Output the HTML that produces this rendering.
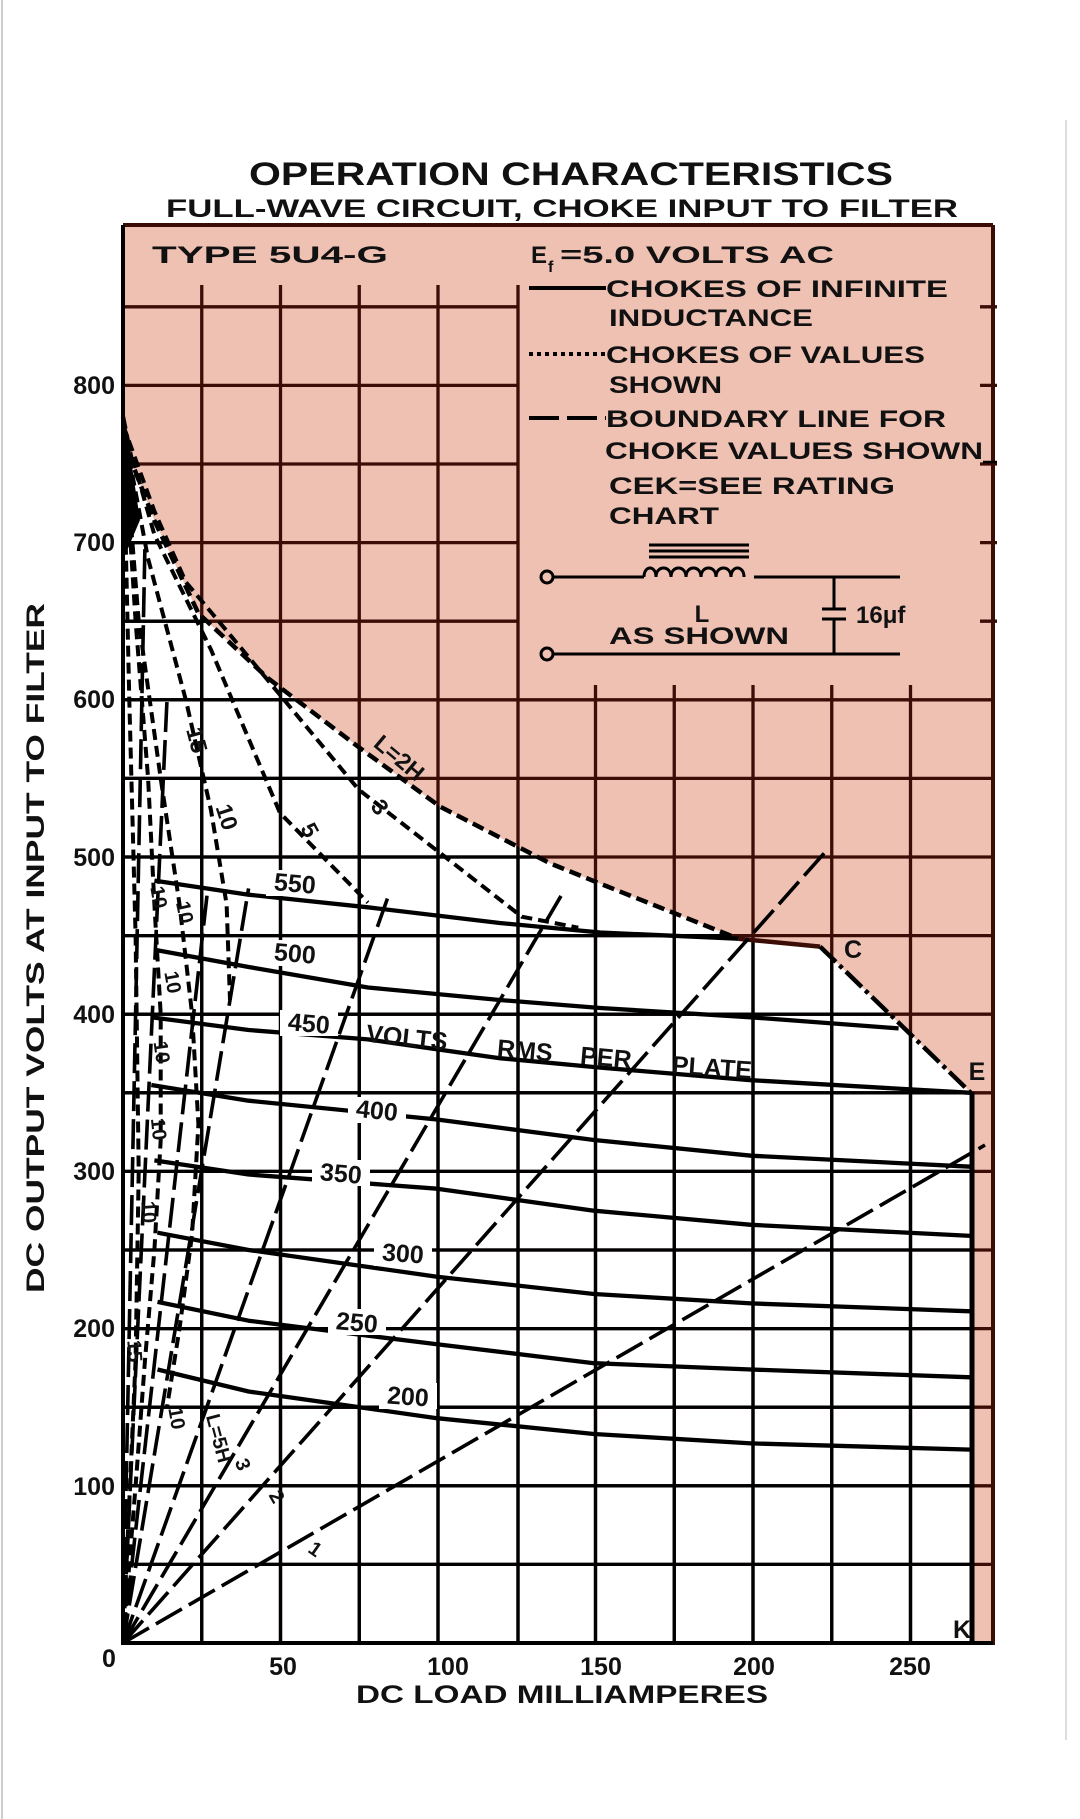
<!DOCTYPE html>
<html><head><meta charset="utf-8"><style>
html,body{margin:0;padding:0;background:#fff;}
svg{display:block;}
text{font-family:"Liberation Sans",sans-serif;fill:#111;font-weight:bold;}
</style></head><body>
<svg width="1080" height="1819" viewBox="0 0 1080 1819" xmlns="http://www.w3.org/2000/svg">
<defs>
<clipPath id="wc"><polygon points="123,417 132.4,464 154.4,520.6 198.4,613.3 267.4,677.8 358.5,747 440.1,806.7 550,863.3 600.3,883.7 738.4,938.7 820.1,946.6 970.8,1092.8 970.8,1643 123,1643"/></clipPath>
<g id="grid">
<g>
<line x1="123" y1="1564.4" x2="993" y2="1564.4"/><line x1="123" y1="1485.8" x2="993" y2="1485.8"/>
<line x1="123" y1="1407.2" x2="993" y2="1407.2"/><line x1="123" y1="1328.6" x2="993" y2="1328.6"/>
<line x1="123" y1="1250" x2="993" y2="1250"/><line x1="123" y1="1171.4" x2="993" y2="1171.4"/>
<line x1="123" y1="1092.8" x2="993" y2="1092.8"/><line x1="123" y1="1014.2" x2="993" y2="1014.2"/>
<line x1="123" y1="935.6" x2="993" y2="935.6"/><line x1="123" y1="857" x2="993" y2="857"/>
<line x1="123" y1="778.4" x2="993" y2="778.4"/><line x1="123" y1="699.8" x2="993" y2="699.8"/>
<line x1="123" y1="621.2" x2="518" y2="621.2"/><line x1="123" y1="542.6" x2="518" y2="542.6"/>
<line x1="123" y1="464" x2="518" y2="464"/><line x1="123" y1="385.4" x2="518" y2="385.4"/>
<line x1="123" y1="306.8" x2="518" y2="306.8"/>
<line x1="980" y1="621.2" x2="997" y2="621.2"/><line x1="980" y1="542.6" x2="997" y2="542.6"/>
<line x1="980" y1="464" x2="997" y2="464"/><line x1="980" y1="385.4" x2="997" y2="385.4"/>
<line x1="980" y1="306.8" x2="997" y2="306.8"/>
<line x1="201.75" y1="285" x2="201.75" y2="1643"/><line x1="280.5" y1="285" x2="280.5" y2="1643"/>
<line x1="359.25" y1="285" x2="359.25" y2="1643"/><line x1="438" y1="285" x2="438" y2="1643"/>
<line x1="518" y1="285" x2="518" y2="1643"/><line x1="595.5" y1="685" x2="595.5" y2="1643"/>
<line x1="674.25" y1="685" x2="674.25" y2="1643"/><line x1="753" y1="685" x2="753" y2="1643"/>
<line x1="831.75" y1="685" x2="831.75" y2="1643"/><line x1="910.5" y1="685" x2="910.5" y2="1643"/>
</g>
</g>
</defs>
<line x1="2" y1="0" x2="2" y2="1819" stroke="#ccc" stroke-width="2"/>
<line x1="1066" y1="120" x2="1066" y2="1740" stroke="#ddd" stroke-width="2"/>

<polygon fill="#efc1b3" points="123,225 123,417 132.4,464 154.4,520.6 198.4,613.3 267.4,677.8 358.5,747 440.1,806.7 550,863.3 600.3,883.7 738.4,938.7 820.1,946.6 970.8,1092.8 970.8,1643 993,1643 993,225"/>
<g stroke="#3a0d06" stroke-width="3.3" fill="none"><use href="#grid"/></g>
<g stroke="#000" stroke-width="3.3" fill="none" clip-path="url(#wc)"><use href="#grid"/></g>
<g stroke-width="4" fill="none">
<line x1="123" y1="225" x2="993" y2="225" stroke="#3a0d06"/>
<line x1="993" y1="225" x2="993" y2="1645" stroke="#3a0d06"/>
<line x1="123" y1="225" x2="123" y2="1645" stroke="#000"/>
<line x1="121" y1="1643" x2="993" y2="1643" stroke="#000"/>
</g>

<polyline fill="none" stroke="#000" stroke-width="4.5" stroke-dasharray="12,6" points="123,417 132.4,464 154.4,520.6 198.4,613.3 267.4,677.8 358.5,747 440.1,806.7 550,863.3 600.3,883.7 738.4,938.7"/>
<polyline fill="none" stroke="#3a0d06" stroke-width="4.5" points="738.4,938.7 820.1,946.6"/>
<polyline fill="none" stroke="#000" stroke-width="4.5" stroke-dasharray="22,5,4,5" points="820.1,946.6 970.8,1092.8"/>
<line x1="972" y1="1092" x2="972" y2="1643" stroke="#000" stroke-width="5"/>
<polygon points="123,417 128,440 140,520 123,560" fill="#000"/>

<g fill="none" stroke="#000" stroke-width="4.3" stroke-linejoin="round">
<polyline points="154.4,880.6 248.6,894.7 367.9,907.3 499.8,923 600.3,932.5 738.4,938.7"/>
<polyline points="154.4,949.8 248.6,967 367.9,987.5 499.8,1000 600.3,1008 751,1017.3 898.6,1028.4"/>
<polyline points="151.3,1017.3 248.6,1030 367.9,1039.4 499.8,1058.2 600.3,1067.6 751,1080.2 970.8,1092.8"/>
<polyline points="151.3,1085 248.6,1100.7 437,1119.5 594,1140 751,1155.7 970.8,1166.7"/>
<polyline points="154.4,1160.4 248.6,1174.5 437,1188.7 594,1210.7 751,1224.8 970.8,1235.9"/>
<polyline points="157.5,1232.7 248.6,1250 437,1276.7 594,1294 751,1303.4 970.8,1311.3"/>
<polyline points="157.5,1301.9 248.6,1320.7 437,1344.3 594,1363.2 751,1369.5 970.8,1377.3"/>
<polyline points="157.5,1369.5 248.6,1391.5 437,1418.2 594,1434 751,1443.4 970.8,1449.6"/>
</g>

<g fill="none" stroke="#000" stroke-width="3.6" stroke-dasharray="30,8">
<line x1="123" y1="1643" x2="985" y2="1145"/>
<line x1="123" y1="1643" x2="826.4" y2="850.7"/>
<line x1="123" y1="1643" x2="562.6" y2="893.2"/>
<line x1="123" y1="1643" x2="389.9" y2="891.6"/>
<line x1="123" y1="1643" x2="248.6" y2="888.4"/>
<line x1="123" y1="1643" x2="207.8" y2="888.4"/>
<line x1="123" y1="1643" x2="167" y2="700"/>
<line x1="123" y1="1643" x2="145" y2="543"/>
</g>
<g fill="none" stroke="#000" stroke-width="4" stroke-dasharray="11,6">
<polyline points="123,424.7 154.4,511.2 185.8,582 242.3,649.5 358.5,789.4 521.8,916.7 578.3,927.7"/>
<polyline points="123,424.7 154.4,534.7 210.9,649.5 280,813 367.9,902.6"/>
<polyline points="123,424.7 148,558.3 185.8,699.8 210.9,809.8 226.6,904.2 230,1000"/>
<polyline points="123,424.7 138.7,621.2 160.7,778.4 179.5,904.2 192.1,1014.2 198.4,1124.2 192.1,1234.3 179.5,1328.6 167,1407.2"/>
<polyline points="123,424.7 135.6,621.2 148.1,778.4 154.4,904.2 160.7,1014.2 160.7,1140 154.4,1250 145,1360 135.6,1485.8 123,1643"/>
<polyline points="123,424.7 129.3,699.8 135.6,935.6 138.7,1171.4 135.6,1360 123,1643"/>
</g>

<text x="249" y="185" font-size="32" textLength="644" lengthAdjust="spacingAndGlyphs">OPERATION  CHARACTERISTICS</text>
<text x="166" y="217" font-size="25" textLength="792" lengthAdjust="spacingAndGlyphs">FULL-WAVE  CIRCUIT, CHOKE  INPUT  TO  FILTER</text>

<g font-size="24">
<text x="152" y="263" textLength="236" lengthAdjust="spacingAndGlyphs">TYPE  5U4-G</text>
<text x="531" y="263">E</text><text x="548" y="272" font-size="16">f</text>
<text x="560" y="263" textLength="274" lengthAdjust="spacingAndGlyphs">=5.0 VOLTS AC</text>
<text x="606" y="297" textLength="342" lengthAdjust="spacingAndGlyphs">CHOKES OF INFINITE</text>
<text x="609" y="326" textLength="204" lengthAdjust="spacingAndGlyphs">INDUCTANCE</text>
<text x="606" y="363" textLength="319" lengthAdjust="spacingAndGlyphs">CHOKES OF VALUES</text>
<text x="609" y="393" textLength="113" lengthAdjust="spacingAndGlyphs">SHOWN</text>
<text x="606" y="427" textLength="340" lengthAdjust="spacingAndGlyphs">BOUNDARY LINE FOR</text>
<text x="605" y="459" textLength="378" lengthAdjust="spacingAndGlyphs">CHOKE VALUES SHOWN</text>
<text x="609" y="494" textLength="286" lengthAdjust="spacingAndGlyphs">CEK=SEE RATING</text>
<text x="609" y="524" textLength="110" lengthAdjust="spacingAndGlyphs">CHART</text>
</g>
<g stroke="#000" fill="none">
<line x1="529" y1="288" x2="606" y2="288" stroke-width="4"/>
<line x1="529" y1="354" x2="606" y2="354" stroke-width="4" stroke-dasharray="4,4"/>
<line x1="529" y1="418" x2="606" y2="418" stroke-width="4" stroke-dasharray="30,8"/>
<line x1="983" y1="462" x2="997" y2="462" stroke-width="2.5"/>
</g>
<g stroke="#000" fill="none" stroke-width="3">
<circle cx="547" cy="577" r="6"/><circle cx="547" cy="654" r="6"/>
<line x1="553" y1="577" x2="644" y2="577"/>
<line x1="649" y1="545" x2="749" y2="545"/><line x1="649" y1="551" x2="749" y2="551"/><line x1="649" y1="557" x2="749" y2="557"/>
<path d="M644,577 c0,-12 12,-12 12,0 c0,-12 15,-12 15,0 c0,-12 15,-12 15,0 c0,-12 15,-12 15,0 c0,-12 15,-12 15,0 c0,-12 15,-12 15,0 c0,-12 13,-12 13,0"/>
<line x1="754" y1="577" x2="900" y2="577"/>
<line x1="553" y1="654" x2="900" y2="654"/>
<line x1="834" y1="577" x2="834" y2="609"/><line x1="834" y1="619" x2="834" y2="654"/>
<line x1="822" y1="609" x2="846" y2="609"/><line x1="822" y1="619" x2="846" y2="619"/>
</g>
<g font-size="24">
<text x="702" y="622" text-anchor="middle">L</text>
<text x="609" y="644" textLength="180" lengthAdjust="spacingAndGlyphs">AS SHOWN</text>
<text x="856" y="623">16μf</text>
</g>

<g font-size="25">
<g fill="#fff" stroke="none">
<rect x="266" y="870" width="58" height="26"/><rect x="266" y="940" width="58" height="26"/>
<rect x="280" y="1010" width="58" height="26"/><rect x="348" y="1097" width="58" height="26"/>
<rect x="312" y="1160" width="58" height="26"/><rect x="374" y="1240" width="58" height="26"/>
<rect x="328" y="1309" width="58" height="26"/><rect x="379" y="1383" width="58" height="26"/>
</g>
<text x="295" y="892" text-anchor="middle" transform="rotate(5 295 883)">550</text>
<text x="295" y="962" text-anchor="middle" transform="rotate(5 295 953)">500</text>
<text x="309" y="1032" text-anchor="middle" transform="rotate(5 309 1023)">450</text>
<text x="377" y="1119" text-anchor="middle" transform="rotate(6 377 1110)">400</text>
<text x="341" y="1182" text-anchor="middle" transform="rotate(5 341 1173)">350</text>
<text x="403" y="1262" text-anchor="middle" transform="rotate(4 403 1253)">300</text>
<text x="357" y="1331" text-anchor="middle" transform="rotate(5 357 1322)">250</text>
<text x="408" y="1405" text-anchor="middle" transform="rotate(4 408 1396)">200</text>
<text x="407" y="1046" text-anchor="middle" transform="rotate(6 407 1037)">VOLTS</text>
<text x="525" y="1059" text-anchor="middle" transform="rotate(5 525 1050)">RMS</text>
<text x="606" y="1066" text-anchor="middle" transform="rotate(5 606 1057)">PER</text>
<text x="712" y="1076" text-anchor="middle" transform="rotate(4 712 1067)">PLATE</text>
<text x="400" y="766" text-anchor="middle" font-size="23" fill="#3a0d06" transform="rotate(40 400 757)">L=2H</text>
<text x="380" y="815" text-anchor="middle" font-size="23" transform="rotate(55 380 807)">3</text>
<text x="310" y="838" text-anchor="middle" font-size="23" transform="rotate(62 310 830)">5</text>
<text x="227" y="825" text-anchor="middle" font-size="23" transform="rotate(72 227 817)">10</text>
<text x="197" y="748" text-anchor="middle" font-size="23" transform="rotate(75 197 740)">15</text>
<text x="160" y="905" text-anchor="middle" font-size="20" transform="rotate(80 160 897)">10</text>
<text x="186" y="920" text-anchor="middle" font-size="20" transform="rotate(78 186 912)">10</text>
<text x="174" y="990" text-anchor="middle" font-size="20" transform="rotate(80 174 982)">10</text>
<text x="163" y="1060" text-anchor="middle" font-size="20" transform="rotate(82 163 1052)">10</text>
<text x="160" y="1137" text-anchor="middle" font-size="20" transform="rotate(84 160 1129)">10</text>
<text x="150" y="1220" text-anchor="middle" font-size="20" transform="rotate(86 150 1212)">10</text>
<text x="136" y="1359" text-anchor="middle" font-size="20" transform="rotate(86 136 1351)">15</text>
<text x="178" y="1426" text-anchor="middle" font-size="20" transform="rotate(80 178 1418)">10</text>
<text x="220" y="1446" text-anchor="middle" font-size="20" transform="rotate(75 220 1438)">L=5H</text>
<text x="244" y="1472" text-anchor="middle" font-size="20" transform="rotate(70 244 1464)">3</text>
<text x="278" y="1504" text-anchor="middle" font-size="20" transform="rotate(60 278 1496)">2</text>
<text x="316" y="1556" text-anchor="middle" font-size="20" transform="rotate(35 316 1548)">1</text>
<text x="853" y="958" text-anchor="middle" fill="#3a0d06">C</text>
<text x="977" y="1080" text-anchor="middle" fill="#3a0d06">E</text>
<text x="962" y="1638" text-anchor="middle">K</text>
</g>

<g font-size="25">
<text x="115" y="394" text-anchor="end">800</text>
<text x="115" y="551" text-anchor="end">700</text>
<text x="115" y="708" text-anchor="end">600</text>
<text x="115" y="866" text-anchor="end">500</text>
<text x="115" y="1023" text-anchor="end">400</text>
<text x="115" y="1180" text-anchor="end">300</text>
<text x="115" y="1337" text-anchor="end">200</text>
<text x="115" y="1495" text-anchor="end">100</text>
<text x="109" y="1667" text-anchor="middle">0</text>
<text x="283" y="1675" text-anchor="middle">50</text>
<text x="448" y="1675" text-anchor="middle">100</text>
<text x="601" y="1675" text-anchor="middle">150</text>
<text x="754" y="1675" text-anchor="middle">200</text>
<text x="910" y="1675" text-anchor="middle">250</text>
<text x="356" y="1703" textLength="412" lengthAdjust="spacingAndGlyphs">DC LOAD MILLIAMPERES</text>
<text x="0" y="0" text-anchor="middle" textLength="690" lengthAdjust="spacingAndGlyphs" transform="translate(44 948) rotate(-90)">DC OUTPUT VOLTS AT INPUT TO FILTER</text>
</g>
</svg>
</body></html>
